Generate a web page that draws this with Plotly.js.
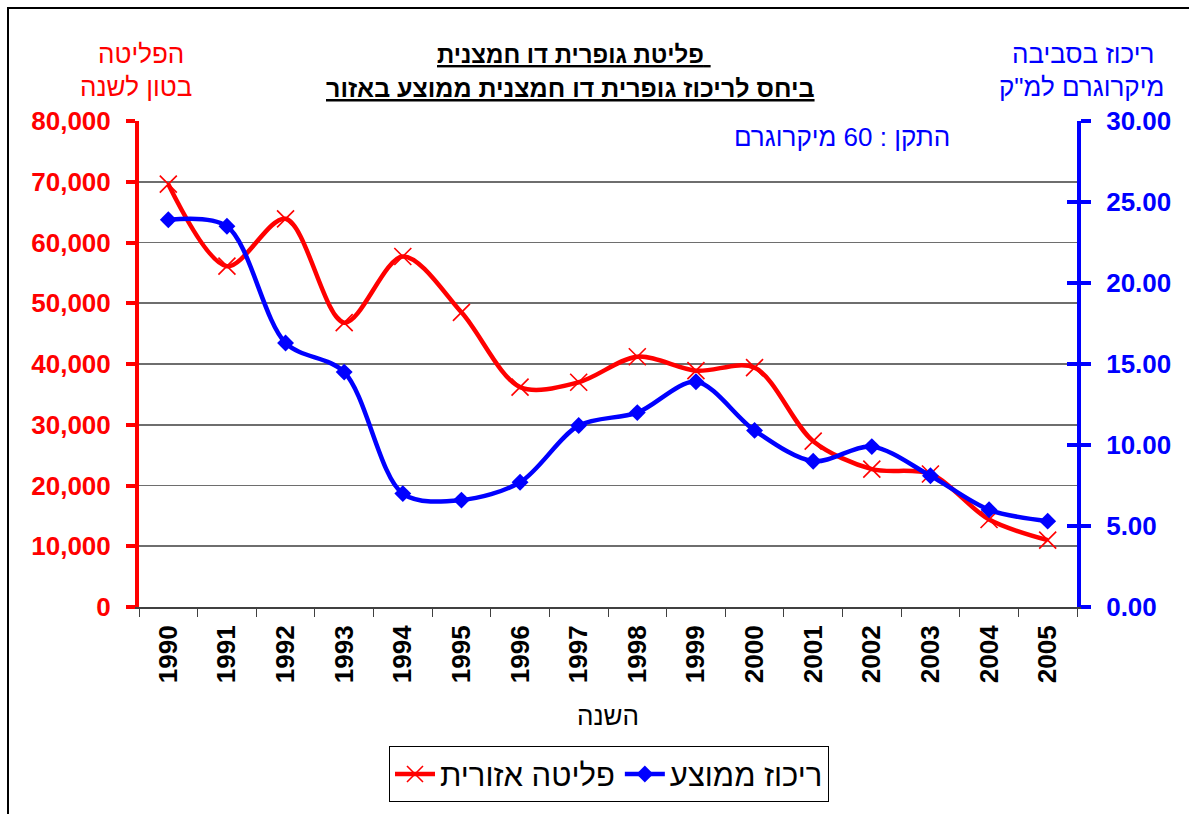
<!DOCTYPE html>
<html>
<head>
<meta charset="utf-8">
<script src="https://cdn.plot.ly/plotly-3.0.1.min.js"></script>
<style>
  html, body { margin: 0; padding: 0; background: #fff; overflow: hidden; }
  #chart { width: 1189px; height: 814px; }
  #frame { position: absolute; left: 7px; top: 7px; width: 1300px; height: 1000px;
           border: 2px solid #000; pointer-events: none; box-sizing: border-box; }
</style>
</head>
<body>
<div id="chart"></div>
<div id="frame"></div>
<script>
// ---- data ----
const years = ['1990','1991','1992','1993','1994','1995','1996','1997','1998','1999','2000','2001','2002','2003','2004','2005'];
const emission = [69600, 56100, 63900, 46800, 57700, 48500, 36200, 37000, 41200, 38900, 39400, 27300, 22700, 21900, 14400, 11000];
const concentration = [23.9, 23.5, 16.3, 14.5, 7.0, 6.6, 7.7, 11.2, 12.0, 13.9, 10.9, 9.0, 9.9, 8.1, 6.0, 5.3];
const emissionName = 'פליטה אזורית';
const concentrationName = 'ריכוז ממוצע';
const titleLine1 = 'פליטת גופרית דו חמצנית ';
const titleLine2 = 'ביחס לריכוז גופרית דו חמצנית ממוצע באזור';
const leftTitle = ['הפליטה', 'בטון לשנה'];
const rightTitle = ['ריכוז בסביבה', 'מיקרוגרם למ"ק'];
const standardNote = 'התקן : 60 מיקרוגרם';
const xTitle = 'השנה';

// ---- layout geometry ----
const W = 1189, H = 814;
const L = 139, R = 1077, T = 121, B = 609;
const px = x => (x - L) / (R - L);
const py = y => (B - y) / (B - T);
const FONT = 'Arial, "Liberation Sans", "DejaVu Sans", sans-serif';

const traces = [
  {
    x: years, y: emission, name: emissionName, type: 'scatter', mode: 'lines+markers',
    yaxis: 'y',
    line: { color: '#ff0000', width: 4.5, shape: 'spline', smoothing: 0.9 },
    marker: { symbol: 'x-thin-open', size: 17, color: '#ff0000', line: { color: '#ff0000', width: 1.6 } },
    cliponaxis: false
  },
  {
    x: years, y: concentration, name: concentrationName, type: 'scatter', mode: 'lines+markers',
    yaxis: 'y2',
    line: { color: '#0000ff', width: 4.5, shape: 'spline', smoothing: 0.9 },
    marker: { symbol: 'diamond', size: 13, color: '#0000ff' },
    cliponaxis: false
  }
];

function ann(text, x, y, color, size, bold) {
  return {
    text: bold ? '<b>' + text + '</b>' : text,
    xref: 'paper', yref: 'paper', x: px(x), y: py(y),
    xanchor: 'center', yanchor: 'middle', showarrow: false,
    font: { family: FONT, size: size, color: color }
  };
}

const layout = {
  width: W, height: H,
  margin: { l: L, r: W - R, t: T, b: H - B, pad: 0 },
  paper_bgcolor: '#ffffff', plot_bgcolor: '#ffffff',
  font: { family: FONT },
  showlegend: true,
  legend: {
    orientation: 'h', xref: 'paper', yref: 'paper',
    x: px(609), y: py(777), xanchor: 'center', yanchor: 'middle',
    bordercolor: '#000', borderwidth: 1, bgcolor: '#fff',
    font: { family: FONT, size: 31, color: '#000' },
    itemwidth: 40, tracegroupgap: 0
  },
  xaxis: {
    type: 'category', range: [-0.5, 15.5],
    showline: true, linecolor: '#404040', linewidth: 2,
    ticks: 'outside', tickson: 'boundaries', ticklen: 8, tickwidth: 1, tickcolor: '#404040',
    tickangle: -90, ticklabelstandoff: 6,
    tickfont: { family: FONT, size: 26, color: '#000', weight: 'bold' },
    showgrid: false, zeroline: false, fixedrange: true
  },
  yaxis: {
    range: [0, 80000], dtick: 10000, tick0: 0, tickformat: ',d',
    showline: true, linecolor: '#ff0000', linewidth: 4,
    ticks: 'outside', ticklen: 9, tickwidth: 4, tickcolor: '#ff0000',
    ticklabelstandoff: 10,
    tickfont: { family: FONT, size: 26, color: '#ff0000', weight: 'bold' },
    showgrid: true, gridcolor: '#6e6e6e', gridwidth: 1.6,
    zeroline: false, fixedrange: true
  },
  yaxis2: {
    range: [0, 30], dtick: 5, tick0: 0, tickformat: '.2f',
    overlaying: 'y', side: 'right', anchor: 'x',
    showline: true, linecolor: '#0000ff', linewidth: 4,
    ticks: 'outside', ticklen: 10, tickwidth: 4, tickcolor: '#0000ff',
    ticklabelstandoff: 10,
    tickfont: { family: FONT, size: 26, color: '#0000ff', weight: 'bold' },
    showgrid: false, zeroline: false, fixedrange: true
  },
  yaxis3: {
    range: [0, 30], dtick: 5, tick0: 0,
    overlaying: 'y', side: 'right', anchor: 'x',
    showline: false, ticks: 'inside', ticklen: 10, tickwidth: 4, tickcolor: '#0000ff',
    showticklabels: false, showgrid: false, zeroline: false, fixedrange: true
  },
  annotations: [
    ann('<u>' + titleLine1 + '</u>', 574, 54, '#000', 24, true),
    ann('<u>' + titleLine2 + '</u>', 570, 88, '#000', 25, true),
    ann(leftTitle[0], 141, 54, '#ff0000', 26, false),
    ann(leftTitle[1], 136, 87, '#ff0000', 26, false),
    ann(rightTitle[0], 1083, 54, '#0000ff', 26, false),
    ann(rightTitle[1], 1081, 87, '#0000ff', 26, false),
    ann(standardNote, 842, 137, '#0000ff', 26, false),
    ann(xTitle, 608, 718, '#000', 26, false)
  ]
};

// dummy trace to activate yaxis3 tick overlay
traces.push({ x: years, y: concentration.map(() => null), yaxis: 'y3', showlegend: false, hoverinfo: 'skip', type: 'scatter', mode: 'lines' });

Plotly.newPlot('chart', traces, layout, { staticPlot: true, displayModeBar: false });
</script>
</body>
</html>
